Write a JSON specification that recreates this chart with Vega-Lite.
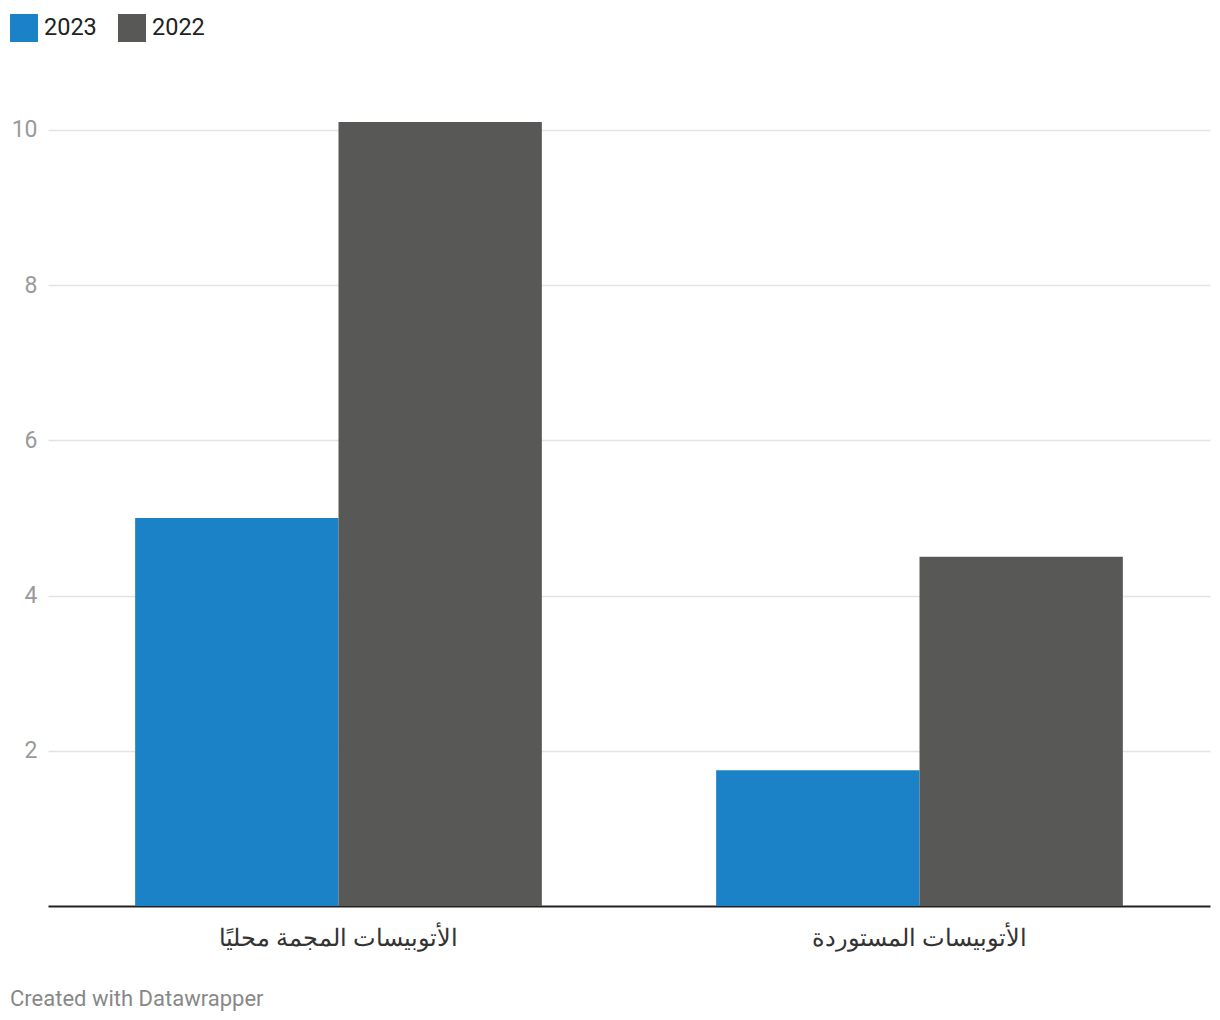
{
  "$schema": "https://vega.github.io/schema/vega-lite/v6.json",
  "width": 1162,
  "height": 784,
  "autosize": {"type": "none"},
  "padding": {"left": 48, "top": 122, "right": 10, "bottom": 114},
  "background": "white",
  "data": {
    "values": [
      {"category": "الأتوبيسات المجمة محليًا", "year": "2023", "value": 5.0},
      {"category": "الأتوبيسات المجمة محليًا", "year": "2022", "value": 10.1},
      {"category": "الأتوبيسات المستوردة", "year": "2023", "value": 1.75},
      {"category": "الأتوبيسات المستوردة", "year": "2022", "value": 4.5}
    ]
  },
  "title": {
    "text": "Created with Datawrapper",
    "orient": "bottom",
    "anchor": "start",
    "frame": "group",
    "font": "Roboto",
    "fontSize": 22,
    "fontWeight": "normal",
    "color": "#888888",
    "offset": 39,
    "dx": -38
  },
  "mark": {"type": "bar"},
  "encoding": {
    "x": {
      "field": "category",
      "type": "nominal",
      "sort": ["الأتوبيسات المجمة محليًا", "الأتوبيسات المستوردة"],
      "scale": {"paddingInner": 0.3, "paddingOuter": 0.15},
      "axis": {
        "title": null,
        "labelAngle": 0,
        "ticks": false,
        "domain": true,
        "domainColor": "#222222",
        "domainWidth": 2,
        "labelFont": "Roboto",
        "labelFontSize": 23.5,
        "labelColor": "#333333",
        "labelPadding": 20,
        "labelLimit": 0
      }
    },
    "xOffset": {"field": "year", "type": "nominal", "sort": ["2023", "2022"]},
    "y": {
      "field": "value",
      "type": "quantitative",
      "scale": {"domain": [0, 10.1], "nice": false},
      "axis": {
        "title": null,
        "values": [2, 4, 6, 8, 10],
        "ticks": false,
        "domain": false,
        "grid": true,
        "gridColor": "#e3e3e3",
        "gridWidth": 1.5,
        "labelFont": "Roboto",
        "labelFontSize": 23,
        "labelColor": "#9a9a9a",
        "labelPadding": 11
      }
    },
    "color": {
      "field": "year",
      "type": "nominal",
      "scale": {"domain": ["2023", "2022"], "range": ["#1b82c7", "#585856"]},
      "legend": {
        "title": null,
        "orient": "none",
        "direction": "horizontal",
        "legendX": -38,
        "legendY": -108,
        "symbolType": "square",
        "symbolSize": 784,
        "symbolStrokeWidth": 0,
        "symbolOpacity": 1,
        "labelFont": "Roboto",
        "labelFontSize": 23.5,
        "labelColor": "#222222",
        "labelOffset": 6,
        "columnPadding": 21
      }
    }
  },
  "config": {
    "view": {"stroke": null}
  }
}
